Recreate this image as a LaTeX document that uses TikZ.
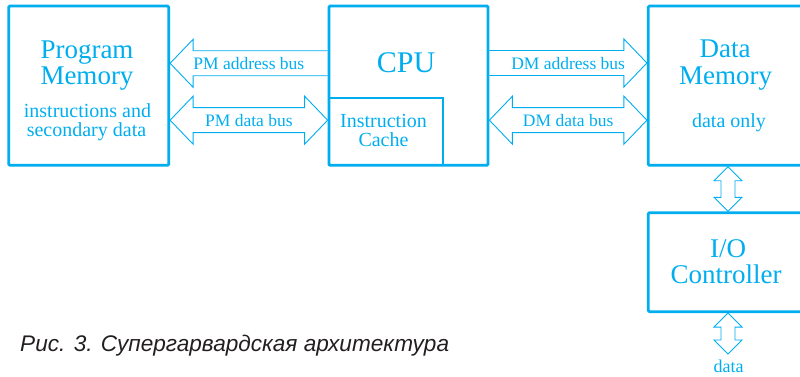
\documentclass[tikz,border=0pt]{standalone}
\usepackage{fontspec}
\setmainfont{Liberation Serif}
\newfontfamily\capfont{Liberation Sans}
\usetikzlibrary{calc}
\definecolor{cy}{RGB}{0,174,239}
\definecolor{capc}{RGB}{35,31,32}
\newcommand\lbus[3]{\draw[bus] let \p1=(#1), \p2=(#2) in
  (\x2,\y1+12.5pt) -- (\x1+23pt,\y1+12.5pt) -- (\x1+23pt,\y1+24pt) -- (\x1,\y1)
  -- (\x1+23pt,\y1-24pt) -- (\x1+23pt,\y1-12.5pt) -- (\x2,\y1-12.5pt)
  ($(\x1,\y1)!.5!(\x2,\y1)$) node[buslabel]{#3};}
\newcommand\rbus[3]{\draw[bus] let \p1=(#1), \p2=(#2) in
  (\x1,\y2+12.5pt) -- (\x2-23pt,\y2+12.5pt) -- (\x2-23pt,\y2+24pt) -- (\x2,\y2)
  -- (\x2-23pt,\y2-24pt) -- (\x2-23pt,\y2-12.5pt) -- (\x1,\y2-12.5pt)
  ($(\x1,\y2)!.5!(\x2,\y2)$) node[buslabel]{#3};}
\newcommand\dbus[3]{\draw[bus] let \p1=(#1), \p2=(#2) in
  (\x1,\y1) -- (\x1+23pt,\y1+24pt) -- (\x1+23pt,\y1+12.5pt) -- (\x2-23pt,\y1+12.5pt)
  -- (\x2-23pt,\y1+24pt) -- (\x2,\y1) -- (\x2-23pt,\y1-24pt) -- (\x2-23pt,\y1-12.5pt)
  -- (\x1+23pt,\y1-12.5pt) -- (\x1+23pt,\y1-24pt) -- cycle
  ($(\x1,\y1)!.5!(\x2,\y1)$) node[buslabel]{#3};}
\newcommand\vbus[2]{\draw[bus] let \p1=(#1), \p2=(#2) in
  (\x1,\y1) -- (\x1+14pt,\y1-14pt) -- (\x1+7pt,\y1-14pt) -- (\x1+7pt,\y2+14pt)
  -- (\x1+14pt,\y2+14pt) -- (\x1,\y2) -- (\x1-14pt,\y2+14pt) -- (\x1-7pt,\y2+14pt)
  -- (\x1-7pt,\y1-14pt) -- (\x1-14pt,\y1-14pt) -- cycle;}
\begin{document}
\begin{tikzpicture}[x=1pt,y=-1pt,
  box/.style={draw=cy, line width=2.8pt, rounded corners=1.2pt, inner sep=0pt},
  cachebox/.style={draw=cy, line width=2pt, inner sep=0pt},
  bus/.style={draw=cy, line width=0.9pt, line join=miter},
  buslabel/.style={text=cy, inner sep=0pt, anchor=base, yshift=-6.5pt,
    font=\rmfamily\fontsize{17.5}{20}\selectfont},
  big/.style={text=cy, inner sep=0pt, anchor=base, font=\rmfamily\fontsize{27}{30}\selectfont},
  mid/.style={text=cy, inner sep=0pt, anchor=base, font=\rmfamily\fontsize{20}{22}\selectfont}]
\useasboundingbox (0,0) rectangle (800,377);
\clip (0,0) rectangle (800,377);
% boxes
\node[cachebox, minimum width=114.3pt, minimum height=67pt] (cache) at (386.15,131.8) {};
\node[box, minimum width=160pt, minimum height=159.3pt] (pm) at (88.7,85.65) {};
\node[box, minimum width=159pt, minimum height=159.3pt] (cpu) at (408.5,85.65) {};
\node[box, minimum width=159.4pt, minimum height=159.3pt] (dm) at (728,85.65) {};
\node[box, minimum width=159.4pt, minimum height=99pt] (io) at (728,262.2) {};
% texts
\node[big] (pm1) at (87,58.3) {Program};
\node[big] (pm2) at (87,85) {Memory};
\node[mid] (pm3) at (87.5,117.3) {instructions and};
\node[mid] (pm4) at (86.5,136.7) {secondary data};
\node[big, font=\rmfamily\fontsize{30}{32}\selectfont] (cpu1) at (406,72.7) {CPU};
\node[mid] (ca1) at (383.5,127.7) {Instruction};
\node[mid] (ca2) at (383.5,146.7) {Cache};
\node[big] (dm1) at (725,57.3) {Data};
\node[big] (dm2) at (725.7,85) {Memory};
\node[mid] (dm3) at (729,127.7) {data only};
\node[big] (io1) at (728,257.7) {I/O};
\node[big] (io2) at (726,283.3) {Controller};
% buses
\lbus{pm.east |- 0,63.3}{cpu.west |- 0,63.3}{PM address bus}
\dbus{pm.east |- 0,120.2}{cpu.west |- 0,120.2}{PM data bus}
\rbus{cpu.east |- 0,63}{dm.west |- 0,63}{DM address bus}
\dbus{cpu.east |- 0,120.2}{dm.west |- 0,120.2}{DM data bus}
\vbus{dm.south}{io.north}
\coordinate (dataend) at (728,354);
\vbus{io.south}{dataend}
\node[mid, font=\rmfamily\fontsize{18}{20}\selectfont] (data) at (728.7,372.7) {data};
% caption
\node[anchor=base west, inner sep=0pt, text=capc, font=\capfont\itshape\fontsize{22.6}{24}\selectfont]
  (cap) at (20,351.7) {Рис. 3. Супергарвардская архитектура};
\end{tikzpicture}
\end{document}
